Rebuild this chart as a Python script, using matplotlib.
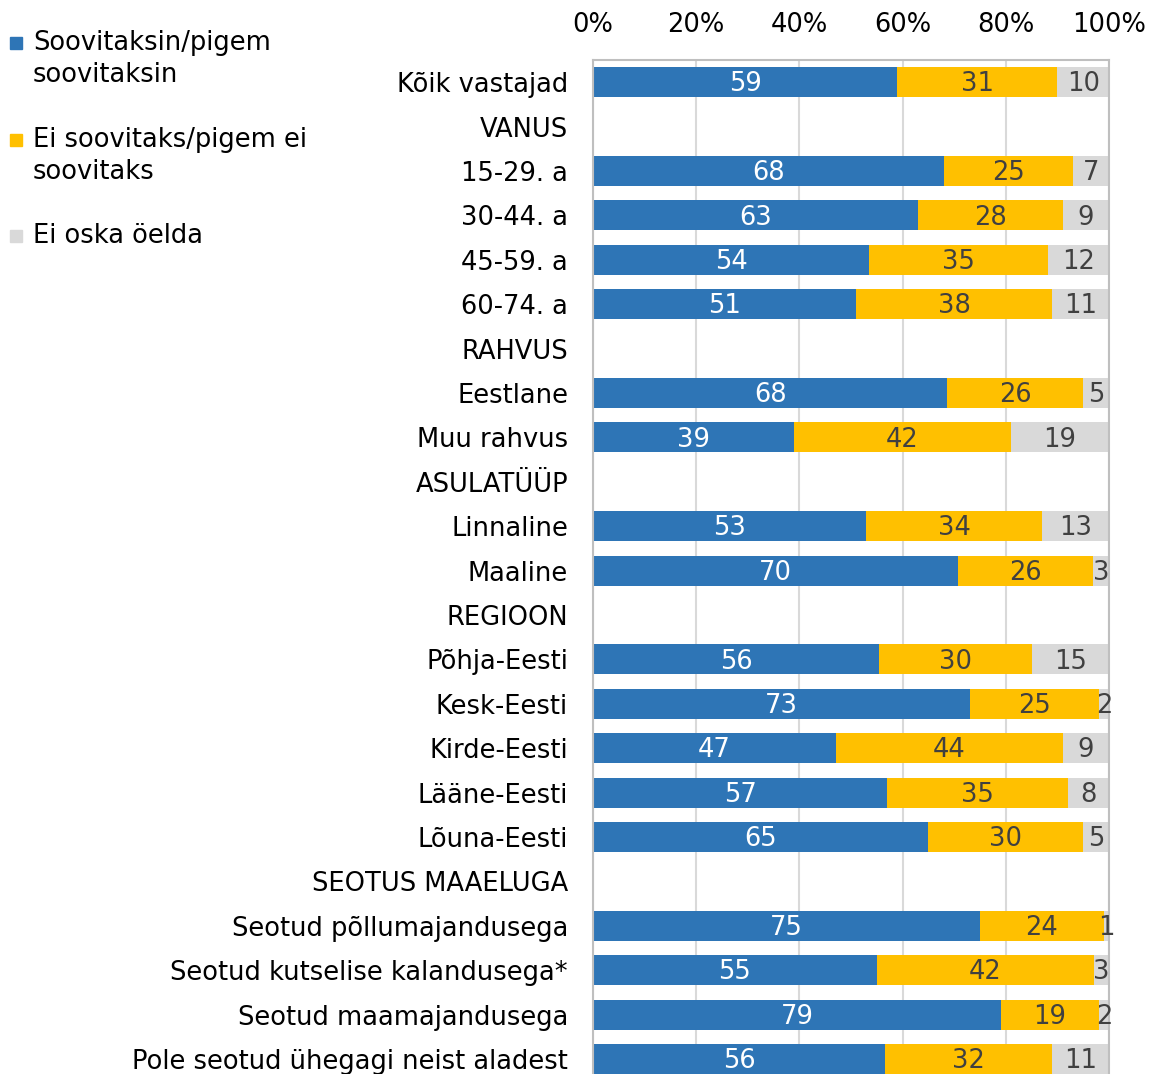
import matplotlib
matplotlib.use("agg")
import matplotlib.pyplot as plt
from matplotlib.patches import Rectangle
import numpy as np

# categories from top to bottom (headers have no bars)
categories = ["Kõik vastajad", "VANUS", "15-29. a", "30-44. a", "45-59. a", "60-74. a",
              "RAHVUS", "Eestlane", "Muu rahvus", "ASULATÜÜP", "Linnaline", "Maaline",
              "REGIOON", "Põhja-Eesti", "Kesk-Eesti", "Kirde-Eesti", "Lääne-Eesti", "Lõuna-Eesti",
              "SEOTUS MAAELUGA", "Seotud põllumajandusega", "Seotud kutselise kalandusega*",
              "Seotud maamajandusega", "Pole seotud ühegagi neist aladest"]
soovitaks = [59, None, 68, 63, 54, 51, None, 68, 39, None, 53, 70, None, 56, 73, 47, 57, 65,
             None, 75, 55, 79, 56]
ei_soovitaks = [31, None, 25, 28, 35, 38, None, 26, 42, None, 34, 26, None, 30, 25, 44, 35, 30,
                None, 24, 42, 19, 32]
ei_oska = [10, None, 7, 9, 12, 11, None, 5, 19, None, 13, 3, None, 15, 2, 9, 8, 5,
           None, 1, 3, 2, 11]
series_lines = [["Soovitaksin/pigem", "soovitaksin"],
                ["Ei soovitaks/pigem ei", "soovitaks"],
                ["Ei oska öelda"]]
colors = ["#2E75B6", "#FFC000", "#D9D9D9"]
label_colors = ["white", "#404040", "#404040"]

FS = 18.5
plt.rcParams['font.family'] = 'DejaVu Sans'
fig = plt.figure(figsize=(11.54, 10.74), dpi=100)
n = len(categories)
row_h = 44.4 / 1074
top = 1 - 60 / 1074
ax = fig.add_axes([593 / 1154, top - n * row_h, (1109 - 593) / 1154, n * row_h])

y = np.arange(n)
for i in range(n):
    if soovitaks[i] is None:
        continue
    vals = [soovitaks[i], ei_soovitaks[i], ei_oska[i]]
    tot = sum(vals)
    left = 0
    for j, v in enumerate(vals):
        w = v / tot * 100
        ax.barh(y[i], w, left=left, height=0.68, color=colors[j], zorder=2)
        ax.text(left + w / 2, y[i] + 0.05, str(v), ha='center', va='center',
                color=label_colors[j], fontsize=FS, zorder=3)
        left += w

ax.set_ylim(n - 0.5, -0.5)
ax.set_xlim(0, 100)
ax.set_yticks(y)
ax.set_yticklabels(categories, fontsize=FS, color='black')
ax.set_xticks([0, 20, 40, 60, 80, 100])
ax.set_xticklabels(["0%", "20%", "40%", "60%", "80%", "100%"], fontsize=FS)
ax.xaxis.tick_top()
ax.tick_params(axis='x', length=0, pad=16)
ax.tick_params(axis='y', length=0, pad=18)
ax.grid(axis='x', color='#D9D9D9', linewidth=1.5, zorder=0)
ax.set_axisbelow(True)
for s in ['left', 'top', 'right']:
    ax.spines[s].set_color('#BFBFBF')
    ax.spines[s].set_linewidth(1.5)
ax.spines['bottom'].set_visible(False)

# legend drawn by hand at top left
leg_y = [[43, 75], [140, 172], [236]]
for k in range(3):
    yy = 1 - leg_y[k][0] / 1074
    fig.add_artist(Rectangle((10 / 1154, yy - 6 / 1074), 12 / 1154, 12 / 1074,
                             transform=fig.transFigure, color=colors[k]))
    for line, ly in zip(series_lines[k], leg_y[k]):
        fig.text(33 / 1154, 1 - ly / 1074, line, ha='left', va='center', fontsize=FS)

fig.savefig("out.png", dpi=100)
